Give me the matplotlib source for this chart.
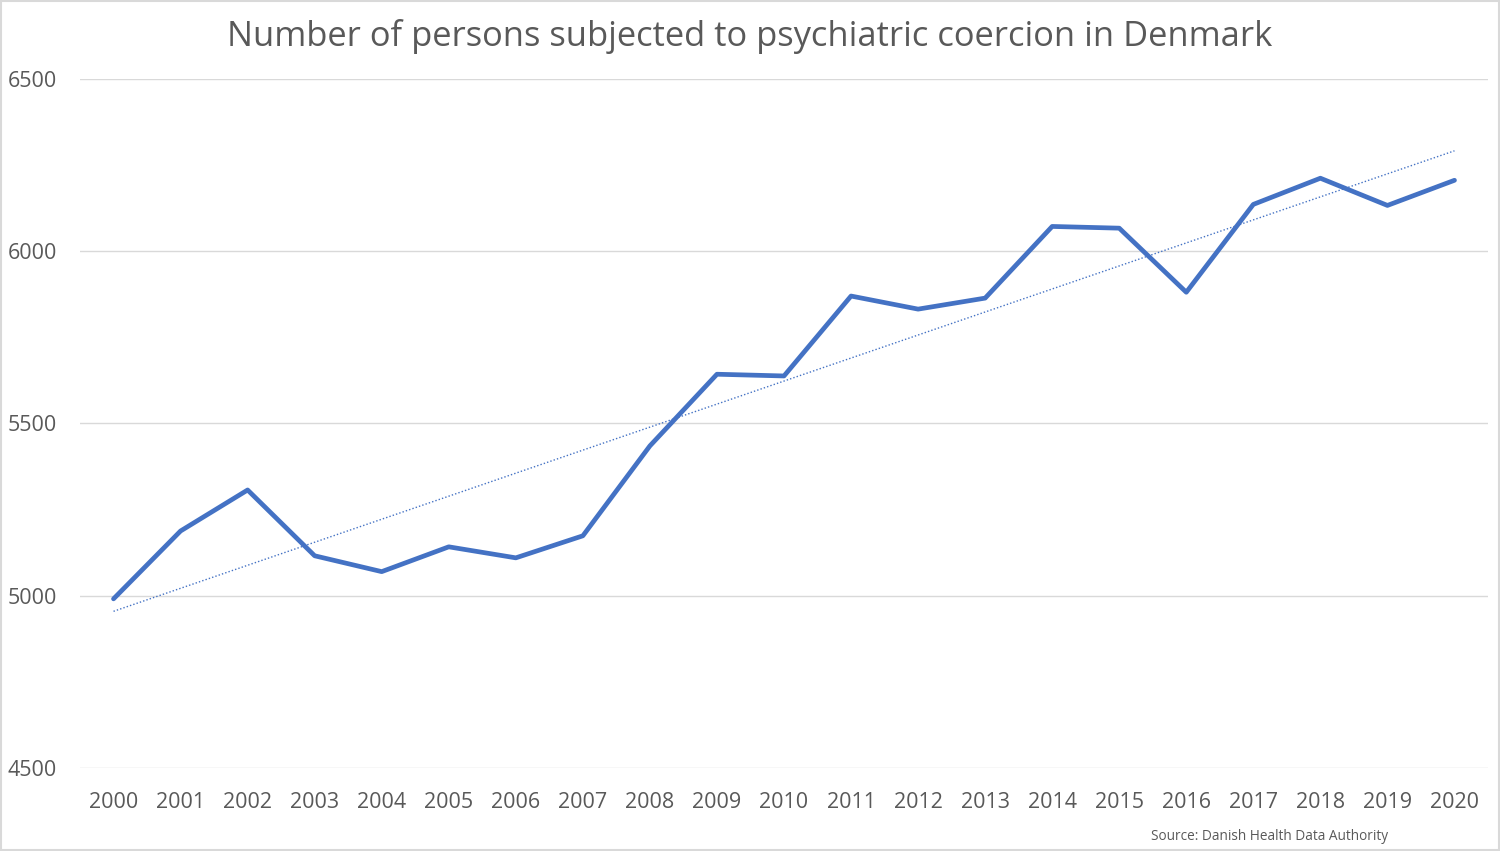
import numpy as np
import matplotlib
matplotlib.use("Agg")
import matplotlib.pyplot as plt
from matplotlib.patches import Rectangle

years = [str(y) for y in range(2000, 2021)]
persons = [4991, 5188, 5307, 5116, 5070, 5142, 5110, 5174, 5435, 5643, 5638,
           5870, 5832, 5864, 6072, 6067, 5881, 6136, 6212, 6133, 6206]
yticks = [4500, 5000, 5500, 6000, 6500]

plt.rcParams['font.family'] = ['Open Sans', 'DejaVu Sans']
TXT = '#595959'
BLUE = '#4472C4'

fig = plt.figure(figsize=(15, 8.51), dpi=100)
ax = fig.add_axes([80/1500, 1-768/851, (1488-80)/1500, (768-79)/851])

x = np.arange(len(years))
ax.plot(x, persons, color=BLUE, lw=3.4, solid_joinstyle='round', solid_capstyle='round', zorder=3)

coef = np.polyfit(x + 1, persons, 1)
trend = np.polyval(coef, x + 1)
ax.plot(x, trend, color=BLUE, lw=1.0, ls=(0, (1, 1.5)), zorder=2)

ax.set_xlim(-0.5, len(years) - 0.5)
ax.set_ylim(4500, 6500)
ax.set_yticks(yticks)
ax.set_yticklabels([str(v) for v in yticks])
ax.set_xticks(x)
ax.set_xticklabels(years)
ax.tick_params(axis='both', length=0, labelsize=15.5, labelcolor=TXT)
ax.tick_params(axis='x', pad=17)
ax.tick_params(axis='y', pad=52)
for lab in ax.get_yticklabels():
    lab.set_horizontalalignment('left')
ax.grid(axis='y', color='#D9D9D9', lw=1)
ax.set_axisbelow(True)
for s in ax.spines.values():
    s.set_visible(False)

fig.text(750/1500, 1-37/851, 'Number of persons subjected to psychiatric coercion in Denmark',
         ha='center', va='center', fontsize=24.8, color=TXT)
fig.text(1270/1500, 1-837/851, 'Source: Danish Health Data Authority',
         ha='center', va='center', fontsize=9.8, color=TXT)

fig.patches.append(Rectangle((0.0005, 0.0008), 0.999, 0.998, transform=fig.transFigure,
                             fill=False, edgecolor='#D9D9D9', lw=1.5))

fig.savefig('out.png', dpi=100, facecolor='white')
